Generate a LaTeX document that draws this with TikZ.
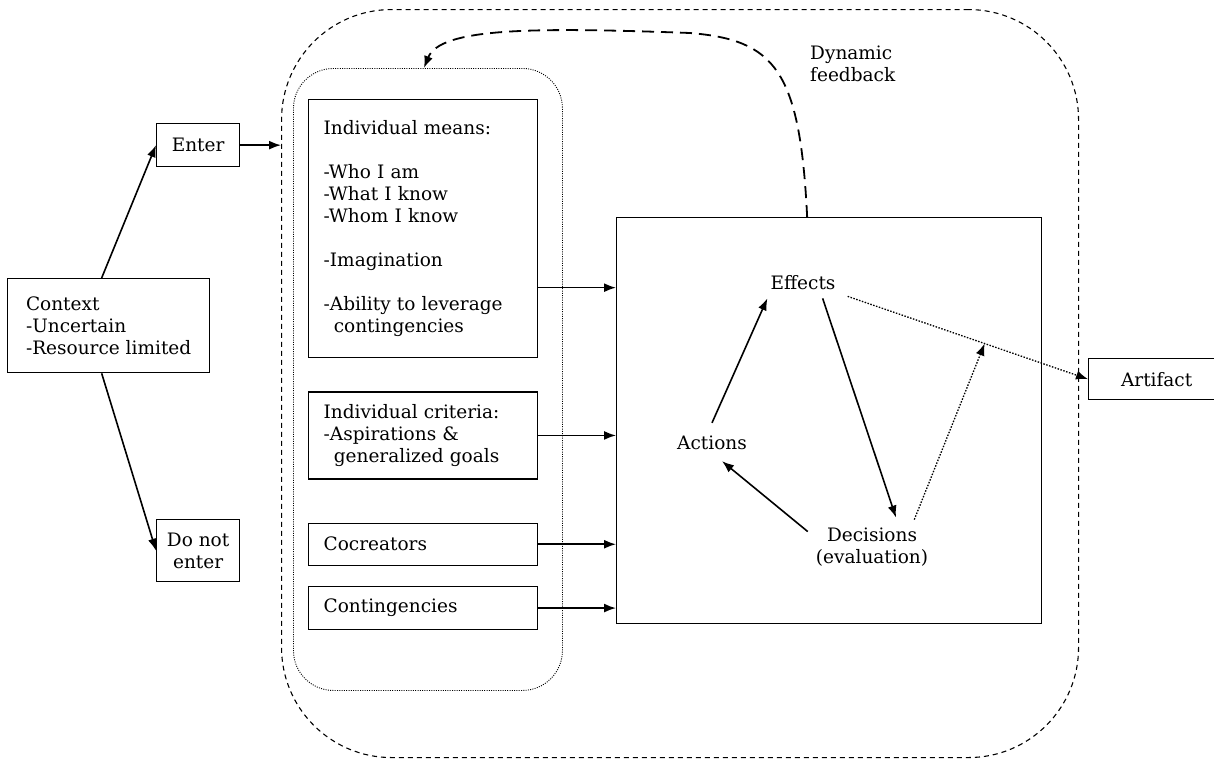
\documentclass[tikz,border=0pt]{standalone}
\usepackage{fontspec}
\setmainfont{DejaVu Serif}
\usetikzlibrary{arrows.meta}
\usetikzlibrary{positioning}
\tikzstyle{block} = [rectangle, draw, line width=1.3pt, align=left, inner xsep=15pt, inner ysep=0pt,
    anchor=north west, font=\fontsize{18.5}{22}\selectfont]
\tikzstyle{word} = [inner sep=3pt, font=\fontsize{18.5}{22}\selectfont]
\tikzstyle{line} = [draw, line width=1.6pt, -{Latex[length=12pt,width=9pt]}]
\tikzstyle{dotline} = [line, line width=1.3pt, dash pattern=on 1.5pt off 1.5pt]

\begin{document}
\begin{tikzpicture}[x=1pt,y=-1pt]
    \useasboundingbox (0,0) rectangle (1214,763);
    % Place nodes
    \node [draw, line width=1.1pt, dash pattern=on 5pt off 4pt, rounded corners=110pt, anchor=north west,
        minimum width=797pt, minimum height=748pt] (outer) at (281,9) {};
    \node [draw, line width=0.9pt, dash pattern=on 1pt off 1.3pt, rounded corners=40pt, anchor=north west,
        minimum width=269pt, minimum height=622pt] (pool) at (293,68) {};

    \node [block, inner xsep=0pt, minimum width=202pt, minimum height=94pt] (context) at (7,278)
        {Context\\-Uncertain\\-Resource limited};
    \node [block, align=center, inner xsep=0pt, minimum width=83pt, minimum height=43pt] (enter) at (156,123) {Enter};
    \node [block, align=center, inner xsep=0pt, minimum width=83pt, minimum height=62pt] (dne) at (156,519) {Do not\\enter};

    \node [block, text width=199pt, minimum height=258pt] (means) at (308,99)
        {Individual means:\\[22pt]-Who I am\\-What I know\\-Whom I know\\[22pt]-Imagination\\[22pt]-Ability to leverage\\\hspace*{0.55em}contingencies};
    \node [block, text width=199pt, minimum height=87pt, below=33pt of means] (criteria)
        {Individual criteria:\\-Aspirations \&\\\hspace*{0.55em}generalized goals};
    \node [block, text width=199pt, minimum height=42pt, below=43pt of criteria] (cocreators) {Cocreators};
    \node [block, text width=199pt, minimum height=43pt, below=20pt of cocreators] (contingencies) {Contingencies};

    \node [block, minimum width=425pt, minimum height=406pt] (main) at (616,217) {};
    \node [word] (effects) at (803,283) {Effects};
    \node [word] (actions) at (712,443) {Actions};
    \node [word, align=center] (decisions) at (872,547) {Decisions\\(evaluation)};

    \node [block, align=center, inner xsep=0pt, minimum width=136pt, minimum height=41pt] (artifact) at (1088,358) {Artifact};
    \node [word, align=left, anchor=north west, inner sep=0pt] (dyn) at (810,46) {Dynamic\\feedback};

    % Draw edges
    \path [line] ([xshift=-7pt]context.north) -- (enter.west);
    \path [line] ([xshift=-7pt]context.south) -- (dne.west);
    \path [line] (enter.east) -- (enter.east -| outer.west);

    \coordinate (m1) at ([yshift=-59pt]means.east);
    \path [line] (m1) -- (m1 -| main.west);
    \path [line] (criteria.east) -- (criteria.east -| main.west);
    \path [line] (cocreators.east) -- (cocreators.east -| main.west);
    \path [line] (contingencies.east) -- (contingencies.east -| main.west);

    \path [line] ([yshift=10pt]actions.north) -- ([yshift=-5pt]effects.south west);
    \path [line] ([shift={(-16pt,-5pt)}]effects.south east) -- ([shift={(24pt,7pt)}]decisions.north);
    \path [line] ([shift={(-5pt,-7pt)}]decisions.north west) -- ([shift={(10pt,-8pt)}]actions.south);

    \coordinate (e2) at ([shift={(9pt,-3pt)}]effects.south east);
    \path [dotline] (e2) -- coordinate[pos=0.57] (fb) (artifact.west);
    \path [dotline] ([shift={(-17pt,5pt)}]decisions.north east) -- (fb);

    \path [line, line width=1.8pt, dash pattern=on 12pt off 7pt] ([xshift=-22pt]main.north)
        .. controls (800,70) and (775,40) .. (690,33) .. controls (530,27) and (440,28) .. ([xshift=-4pt]pool.north);
\end{tikzpicture}
\end{document}
